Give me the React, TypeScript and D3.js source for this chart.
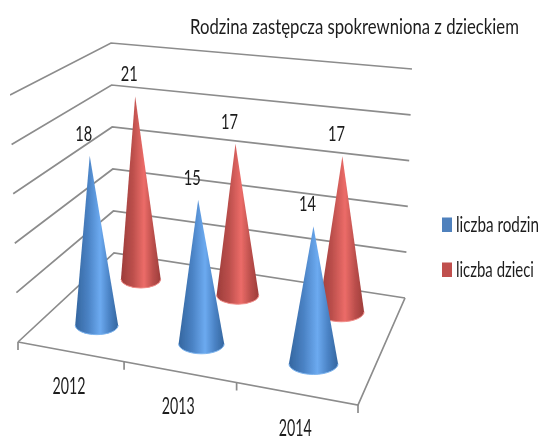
import * as d3 from "d3";
import React, { useRef, useEffect } from "react";

const width = 540;
const height = 437;

const years = ["2012", "2013", "2014"];
const seriesNames = ["liczba rodzin", "liczba dzieci"];
const rodziny = [18, 15, 14];
const dzieci = [21, 17, 17];
const valueTicks = [0, 5, 10, 15, 20, 25];

const colors = [
  { edge: "#34669f", mid: "#4a82c4", light: "#6caaf0", rim: "#7db4ee", swatch: "#4f81bd" },
  { edge: "#9c3c3a", mid: "#bc4f4c", light: "#ec6c68", rim: "#f08a86", swatch: "#c0504d" },
];

// corners of the 3d box on screen: [front-left, front-right, back-left, back-right]
const floor = [[18, 342], [358, 405], [114, 253], [405, 298]];
const top = [[10, 95], [364, 140], [111, 43], [412, 69]];

const xScale = d3.scaleBand<string>().domain(years).range([0, 1]);
const depthScale = d3.scaleBand<string>().domain(seriesNames).range([0, 1]);
const valueScale = d3.scaleLinear().domain([0, 25]).range([0, 1]);
// the categories get wider towards the near corner
const warp = d3.scaleLinear().domain([0, 1 / 3, 2 / 3, 1]).range([0, 0.312, 0.643, 1]);

const lerp = (a: number, b: number, t: number) => a + (b - a) * t;

// t = along the categories, d = depth, v = value
const project = (t: number, d: number, value: number): [number, number] => {
  const h = valueScale(value);
  const w = warp(t);
  const corner = (c: number[][], i: number) =>
    lerp(lerp(c[0][i], c[1][i], w), lerp(c[2][i], c[3][i], w), d);
  return [
    lerp(corner(floor, 0), corner(top, 0), h),
    lerp(corner(floor, 1), corner(top, 1), h),
  ];
};

const conePath = (t: number, d: number, value: number) => {
  const base = project(t, d + 0.04, 0);
  const tip = project(t, d, value);
  const rx = (project(t + 0.07, d, 0)[0] - project(t - 0.07, d, 0)[0]) / 2;
  const ry = rx * 0.44;
  return {
    body: `M${tip[0]},${tip[1]}L${base[0] + rx},${base[1]}A${rx},${ry} 0 0 1 ${base[0] - rx},${base[1]}Z`,
    rim: `M${base[0] + rx},${base[1]}A${rx},${ry} 0 0 1 ${base[0] - rx},${base[1]}`,
  };
};

const App = () => {
  const graphRef = useRef<SVGSVGElement>(null);

  useEffect(() => {
    const svg = d3.select(graphRef.current);
    svg.selectAll("*").remove();

    const defs = svg.append("defs");
    defs
      .append("filter")
      .attr("id", "soft")
      .attr("x", 0)
      .attr("y", 0)
      .attr("width", 1)
      .attr("height", 1)
      .append("feGaussianBlur")
      .attr("stdDeviation", 0.45);

    colors.forEach((c, i) => {
      const grad = defs.append("linearGradient").attr("id", `cone${i}`);
      grad.append("stop").attr("offset", "0%").attr("stop-color", c.edge);
      grad.append("stop").attr("offset", "30%").attr("stop-color", c.mid);
      grad.append("stop").attr("offset", "58%").attr("stop-color", c.light);
      grad.append("stop").attr("offset", "80%").attr("stop-color", c.mid);
      grad.append("stop").attr("offset", "100%").attr("stop-color", c.edge);
    });

    const main = svg.append("g").attr("filter", "url(#soft)");

    // walls: gridlines run along the left side and the back
    const line = d3.line();
    const grid = main.append("g").attr("fill", "none").attr("stroke", "#8c8c8c").attr("stroke-width", 1.7);
    valueTicks.forEach((v) => {
      grid.append("path").attr("d", line([project(0, 0, v), project(0, 1, v), project(1, 1, v)]));
    });

    // floor outline and ticks on the front edge
    grid.append("path").attr("d", line([project(0, 0, 0), project(1, 0, 0), project(1, 1, 0)]));
    [0, 1 / 3, 2 / 3, 1].forEach((t) => {
      const p = project(t, 0, 0);
      grid.append("path").attr("d", line([p, [p[0], p[1] + 8]]));
    });

    // text in the original is narrow and tall, so squeeze it to the measured width
    const addText = (x: number, y: number, label: string | number, size: number, length: number, anchor = "start") => {
      const text = main
        .append("text")
        .attr("text-anchor", anchor)
        .attr("font-family", "Lato, sans-serif")
        .attr("font-size", size)
        .attr("fill", "#1c1c1c")
        .text(label);
      const natural = (text.node() as SVGTextElement).getComputedTextLength();
      text.attr("transform", `translate(${x},${y}) scale(${length / natural},1)`);
    };

    // back row first so blue cones cover the red ones
    [1, 0].forEach((s) => {
      const values = s === 0 ? rodziny : dzieci;
      const d = depthScale(seriesNames[s])! + depthScale.bandwidth() / 2;
      const g = main.append("g");
      years.forEach((year, i) => {
        const t = xScale(year)! + xScale.bandwidth() / 2;
        const cone = conePath(t, d, values[i]);
        g.append("path").attr("d", cone.body).attr("fill", `url(#cone${s})`);
        g.append("path")
          .attr("d", cone.rim)
          .attr("fill", "none")
          .attr("stroke", colors[s].rim)
          .attr("stroke-width", 1);
      });
    });

    // labels go on top
    [1, 0].forEach((s) => {
      const values = s === 0 ? rodziny : dzieci;
      const d = depthScale(seriesNames[s])! + depthScale.bandwidth() / 2;
      years.forEach((year, i) => {
        const t = xScale(year)! + xScale.bandwidth() / 2;
        const tip = project(t, d, values[i]);
        addText(tip[0] - 6, tip[1] - 15, values[i], 22, 17, "middle");
      });
    });

    // category labels
    const yearBaselineGap = 42;
    years.forEach((year) => {
      const t = xScale(year)! + xScale.bandwidth() / 2;
      const p = project(t, 0, 0);
      addText(p[0] - 2, Math.min(p[1] + yearBaselineGap, 436), year, 24, 33, "middle");
    });

    addText(190, 34, "Rodzina zastępcza spokrewniona z dzieckiem", 21, 329);

    // legend
    const legendY = d3.scalePoint<string>().domain(seriesNames).range([224.5, 269.5]);
    const legendWidths = [83, 78];
    seriesNames.forEach((name, s) => {
      const y = legendY(name)!;
      main
        .append("rect")
        .attr("x", 442)
        .attr("y", y - 7)
        .attr("width", 10)
        .attr("height", 14.5)
        .attr("fill", colors[s].swatch);
      addText(456, y + 7, name, 21, legendWidths[s]);
    });
  }, []);

  return (
    <svg
      ref={graphRef}
      width={width}
      height={height}
      style={{ position: "absolute", left: 0, top: 0, background: "#fff" }}
    ></svg>
  );
};

export default App;
